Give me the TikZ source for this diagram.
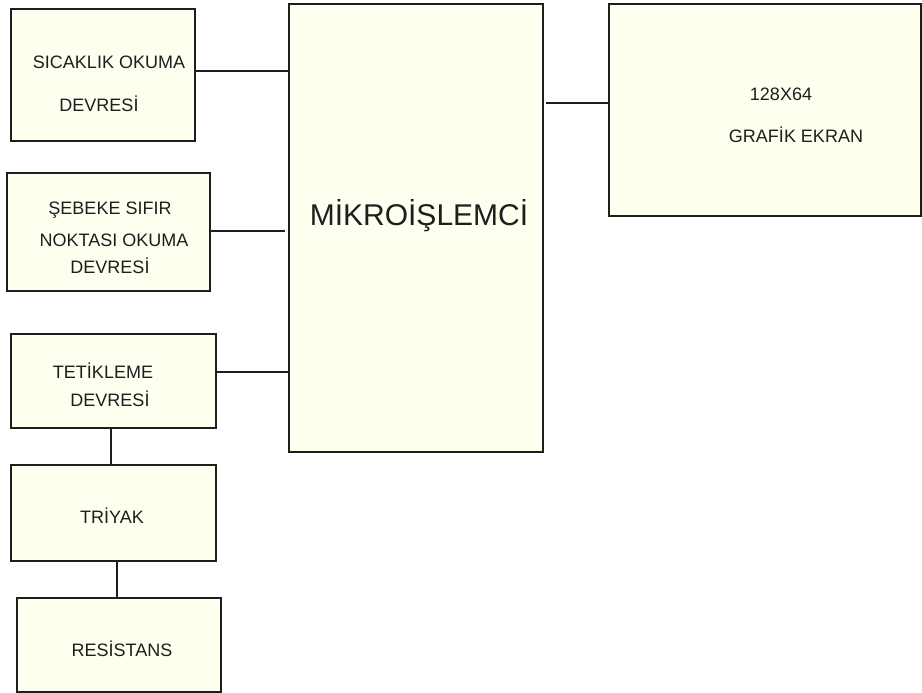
\documentclass[tikz,border=0pt]{standalone}
\usepackage{fontspec}
\setmainfont{Liberation Sans}
\definecolor{boxfill}{RGB}{255,255,240}
\definecolor{ink}{RGB}{30,30,30}
\begin{document}
\begin{tikzpicture}[x=1pt,y=-1pt,
  blk/.style={draw=ink,fill=boxfill,line width=1.2pt,rectangle,inner sep=0pt,outer sep=0pt},
  lbl/.style={anchor=base,inner sep=0pt,text=ink,font=\fontsize{18}{20}\selectfont},
  big/.style={anchor=base,inner sep=0pt,text=ink,font=\fontsize{30}{34}\selectfont},
  wire/.style={draw=ink,line width=1.2pt}]
\useasboundingbox (0,0) rectangle (922,693);
% boxes
\node[blk,minimum width=184pt,minimum height=132pt] (s) at (103,75) {};
\node[blk,minimum width=203pt,minimum height=118pt] (z) at (108.5,232) {};
\node[blk,minimum width=205pt,minimum height=94pt] (t) at (113.5,381) {};
\node[blk,minimum width=205pt,minimum height=96pt] (tr) at (113.5,513) {};
\node[blk,minimum width=204pt,minimum height=94pt] (r) at (119,645) {};
\node[blk,minimum width=254pt,minimum height=448pt] (m) at (416,228) {};
\node[blk,minimum width=312pt,minimum height=212pt] (g) at (765,110) {};
% labels
\node[lbl] (s1) at (109,68.4) {SICAKLIK OKUMA};
\node[lbl] (s2) at (99,111.4) {DEVRESİ};
\node[lbl] (z1) at (110,214.4) {ŞEBEKE SIFIR};
\node[lbl] (z2) at (114,246.4) {NOKTASI OKUMA};
\node[lbl] (z3) at (110,273.4) {DEVRESİ};
\node[lbl] (t1) at (103,378.4) {TETİKLEME};
\node[lbl] (t2) at (110,406.4) {DEVRESİ};
\node[lbl] (tr1) at (112,523.4) {TRİYAK};
\node[lbl] (r1) at (122,656.4) {RESİSTANS};
\node[big] (m1) at (419,225.7) {MİKROİŞLEMCİ};
\node[lbl] (g1) at (781,100.4) {128X64};
\node[lbl] (g2) at (796,142.4) {GRAFİK EKRAN};
% connectors
\draw[wire] (s.east |- 0,71) -- (m.west |- 0,71);
\draw[wire] (z.east |- 0,231) -- ([xshift=-4pt]m.west |- 0,231);
\draw[wire] (t.east |- 0,372) -- (m.west |- 0,372);
\draw[wire] ([xshift=3pt]m.east |- 0,103) -- (g.west |- 0,103);
\draw[wire] (t.south -| 111,0) -- (tr.north -| 111,0);
\draw[wire] (tr.south -| 117,0) -- (r.north -| 117,0);
\end{tikzpicture}
\end{document}
